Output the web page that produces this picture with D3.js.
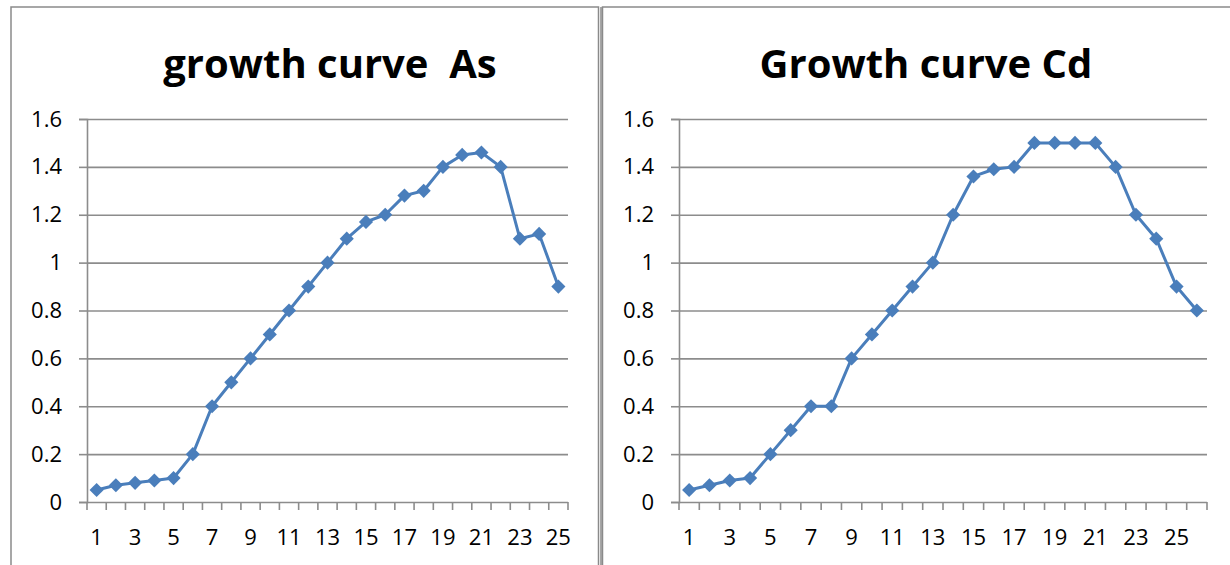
<!DOCTYPE html>
<html><head><meta charset="utf-8">
<script src="https://cdn.jsdelivr.net/npm/d3@7"></script>
<style>
html,body{margin:0;padding:0;background:#fff;}
svg{display:block;}
text{font-family:"Open Sans","Liberation Sans",sans-serif;}
</style></head>
<body>
<svg id="c" width="1230" height="565"></svg>
<script>
// ---- data ----
const titleAs = "growth curve\u00a0\u00a0As";
const titleCd = "Growth curve Cd";
const daysAs = d3.range(1, 26);
const daysCd = d3.range(1, 27);
const valuesAs = [0.05,0.07,0.08,0.09,0.10,0.20,0.40,0.50,0.60,0.70,0.80,0.90,1.00,1.10,1.17,1.20,1.28,1.30,1.40,1.45,1.46,1.40,1.10,1.12,0.90];
const valuesCd = [0.05,0.07,0.09,0.10,0.20,0.30,0.40,0.40,0.60,0.70,0.80,0.90,1.00,1.20,1.36,1.39,1.40,1.50,1.50,1.50,1.50,1.40,1.20,1.10,0.90,0.80];
const yTicks = [0,0.2,0.4,0.6,0.8,1,1.2,1.4,1.6];
const xTickLabels = [1,3,5,7,9,11,13,15,17,19,21,23,25];

const svg = d3.select("#c");
const blue = "#4A7EBB", grid = "#8c8c8c";
const labelSize = 22;

// frames
const frames = [
  {x1:11, x2:598.5, y1:7},
  {x1:602.5, x2:1240, y1:7}
];
frames.forEach(f=>{
  svg.append("path").attr("d",`M${f.x1},566V${f.y1}H${f.x2}V566`)
    .attr("fill","none").attr("stroke","#8a8a8a").attr("stroke-width",1.5);
});
svg.append("line").attr("x1",601).attr("x2",601).attr("y1",7).attr("y2",566)
  .attr("stroke","#8a8a8a").attr("stroke-width",1.5);

function chart(cfg){
  const g = svg.append("g");
  const x = d3.scaleBand().domain(cfg.days).range([cfg.left, cfg.right]);
  const y = d3.scaleLinear().domain([0,1.6]).range([502,119]);

  g.append("text").attr("x",cfg.titleX).attr("y",78).attr("text-anchor","middle")
    .attr("font-size",cfg.titleSize).attr("font-weight","bold").attr("fill","#000")
    .text(cfg.title);

  g.append("g").selectAll("line").data(yTicks.filter(d=>d>0)).join("line")
    .attr("x1",cfg.left).attr("x2",cfg.right)
    .attr("y1",d=>y(d)+0.5).attr("y2",d=>y(d)+0.5)
    .attr("stroke",grid).attr("stroke-width",1.6);

  const ya = g.append("g").attr("transform",`translate(${cfg.left},0)`)
    .call(d3.axisLeft(y).tickValues(yTicks).tickSize(8).tickPadding(17).tickFormat(d=>String(d)));
  ya.attr("font-size",labelSize).attr("font-family",null);
  ya.select(".domain").attr("stroke",grid).attr("stroke-width",1.6);
  ya.selectAll(".tick line").attr("stroke",grid).attr("stroke-width",1.6);
  ya.selectAll("text").attr("font-size",labelSize).attr("fill","#000");

  const bounds = cfg.days.map(d=>x(d)).concat([cfg.right]);
  const xa = g.append("g");
  xa.append("line").attr("x1",cfg.left).attr("x2",cfg.right).attr("y1",502.5).attr("y2",502.5)
    .attr("stroke",grid).attr("stroke-width",1.6);
  xa.selectAll("line.t").data(bounds).join("line").attr("class","t")
    .attr("x1",d=>d).attr("x2",d=>d).attr("y1",502).attr("y2",510)
    .attr("stroke",grid).attr("stroke-width",1.6);
  xa.selectAll("text").data(xTickLabels).join("text")
    .attr("x",d=>x(d)+x.bandwidth()/2).attr("y",545).attr("text-anchor","middle")
    .attr("font-size",labelSize).attr("fill","#000").text(d=>d);

  const pts = cfg.days.map((d,i)=>[x(d)+x.bandwidth()/2, y(cfg.values[i])]);
  g.append("path").attr("d",d3.line()(pts)).attr("fill","none")
    .attr("stroke",blue).attr("stroke-width",3).attr("stroke-linejoin","round");
  g.append("g").selectAll("path").data(pts).join("path")
    .attr("d",d3.symbol(d3.symbolSquare,100)())
    .attr("transform",d=>`translate(${d[0]},${d[1]}) rotate(45)`)
    .attr("fill",blue);
}

chart({title:titleAs, titleX:330, titleSize:40, days:daysAs, values:valuesAs, left:87, right:568});
chart({title:titleCd, titleX:926, titleSize:40, days:daysCd, values:valuesCd, left:679, right:1207});
</script>
</body></html>
